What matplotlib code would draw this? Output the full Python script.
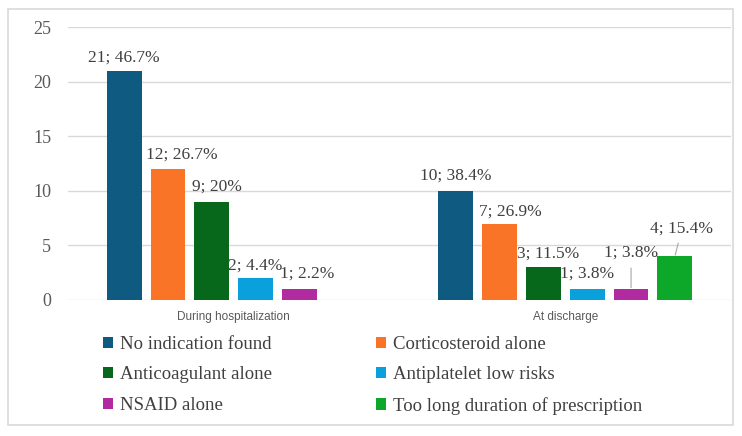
import numpy as np
import matplotlib
matplotlib.use('Agg')
import matplotlib.pyplot as plt
from matplotlib.patches import Rectangle, Patch

# data
categories = ['During hospitalization', 'At discharge']
series = ['No indication found', 'Corticosteroid alone', 'Anticoagulant alone',
          'Antiplatelet low risks', 'NSAID alone', 'Too long duration of prescription']
counts = [
    [21, 10],
    [12, 7],
    [9, 3],
    [2, 1],
    [1, 1],
    [np.nan, 4],
]
labels = [
    ['21; 46.7%', '10; 38.4%'],
    ['12; 26.7%', '7; 26.9%'],
    ['9; 20%', '3; 11.5%'],
    ['2; 4.4%', '1; 3.8%'],
    ['1; 2.2%', '1; 3.8%'],
    ['', '4; 15.4%'],
]
colors = ['#0E5A80', '#FA7428', '#07671B', '#0AA0DC', '#B12AA0', '#0DA82A']

# label offsets in pixels (dx, dy above bar top), and which ones get a leader line
label_offsets = [
    [(0, 13), (0, 15)],
    [(14, 14), (11, 12)],
    [(5, 15), (5, 14)],
    [(0, 13), (0, 15)],
    [(8, 15), (0, 36)],
    [(0, 0), (7, 28)],
]
leaders = [(4, 1), (5, 1)]

serif = ['Liberation Serif', 'DejaVu Serif']
text_col = '#404040'

fig = plt.figure(figsize=(7.42, 4.36), dpi=100)
W, H = 742, 436
ax = fig.add_axes([68 / W, 1 - 300 / H, (731 - 68) / W, (300 - 27) / H])

step = 44 / 332.5
width = 35 / 332.5
x = np.arange(len(categories))

for j, name in enumerate(series):
    vals = np.array(counts[j], dtype=float)
    xs = x + (j - 2.5) * step
    ax.bar(xs, vals, width=width, color=colors[j], label=name, zorder=3)
    for i in range(len(categories)):
        if np.isnan(vals[i]):
            continue
        dx, dy = label_offsets[j][i]
        props = None
        if (j, i) in leaders:
            props = dict(arrowstyle='-', color='#a6a6a6', lw=0.8, shrinkA=3, shrinkB=1)
        ax.annotate(labels[j][i], xy=(xs[i], vals[i]), xytext=(dx, dy),
                    textcoords='offset pixels', ha='center', va='center',
                    fontsize=12.5, family=serif, color=text_col,
                    arrowprops=props, zorder=4)

ax.set_xlim(-0.5, 1.5)
ax.set_ylim(0, 25)
ax.set_yticks([0, 5, 10, 15, 20, 25])
ax.set_xticks(x)
ax.set_xticklabels(categories, fontsize=8.5, family=['Liberation Sans', 'DejaVu Sans'], color='#595959')
for t in ax.get_yticklabels():
    t.set_family(serif)
    t.set_fontsize(13)
    t.set_color('#595959')
ax.tick_params(axis='y', length=0, pad=12)
ax.tick_params(axis='x', length=0, pad=8)
ax.grid(axis='y', color='#d9d9d9', lw=1, zorder=0)
for s in ax.spines.values():
    s.set_visible(False)

# legend, filled row by row
handles = [Patch(facecolor=colors[k], edgecolor='none', label=series[k]) for k in range(6)]
order = [0, 2, 4, 1, 3, 5]
leg = fig.legend([handles[k] for k in order], [series[k] for k in order],
                 ncol=2, loc='upper left', bbox_to_anchor=(86 / W, 1 - 319 / H),
                 frameon=False, handlelength=0.55, handleheight=0.55, handletextpad=0.35,
                 columnspacing=5.55, labelspacing=0.72,
                 prop={'family': serif, 'size': 13.5})
for t in leg.get_texts():
    t.set_color(text_col)

# outer frame
fig.patches.append(Rectangle((8 / W, 1 - 425 / H), (733 - 8) / W, (425 - 9) / H,
                             transform=fig.transFigure, fill=False,
                             edgecolor='#d9d9d9', lw=1.2))

fig.savefig('out.png', dpi=100)
